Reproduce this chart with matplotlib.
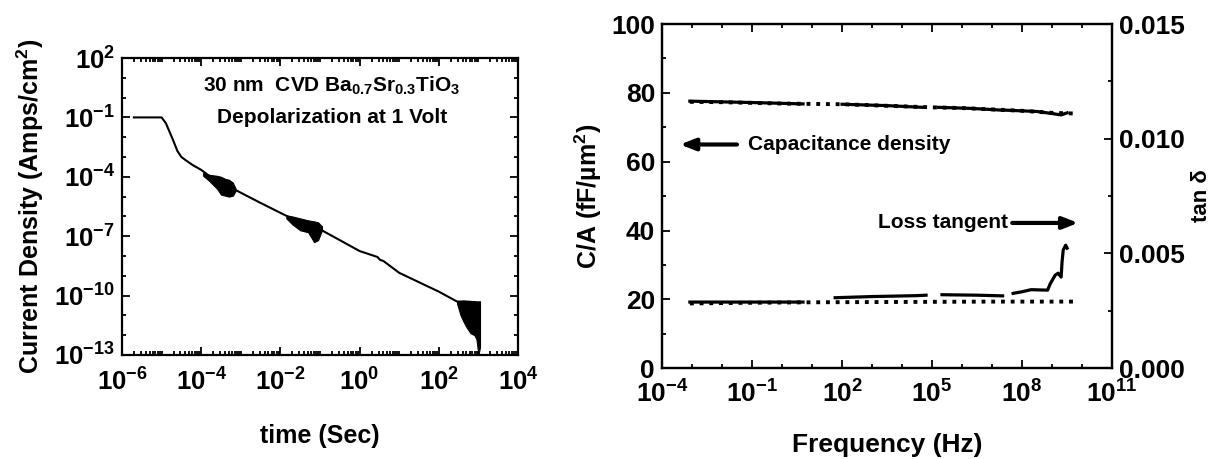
import numpy as np
import matplotlib
matplotlib.use('Agg')
import matplotlib.pyplot as plt
from matplotlib.ticker import LogLocator, MultipleLocator, NullFormatter, LogFormatterMathtext, FormatStrFormatter

plt.rcParams['font.family'] = ['Liberation Sans', 'DejaVu Sans']
plt.rcParams['font.weight'] = 'bold'
plt.rcParams['axes.labelweight'] = 'bold'
plt.rcParams['mathtext.fontset'] = 'custom'
plt.rcParams['mathtext.rm'] = 'Liberation Sans:bold'
plt.rcParams['mathtext.bf'] = 'Liberation Sans:bold'
plt.rcParams['mathtext.it'] = 'Liberation Sans:bold:italic'

# ---- left panel: depolarization current (log10 values)
t_exp = [-5.7, -5.0, -4.89, -4.72, -4.6, -4.5, -4.4, -4.22, -4.0, -3.7, -3.4, -3.13,
         -2.52, -1.82, -1.0, 0.0, 0.45, 0.52, 0.6, 1.0, 2.0, 2.46, 2.7, 3.04]
j_exp = [-1.0, -1.0, -1.3, -2.1, -2.7, -3.0, -3.15, -3.4, -3.65, -4.1, -4.45, -4.67,
         -5.3, -6.0, -6.65, -7.75, -8.05, -8.2, -8.25, -8.85, -9.8, -10.3, -10.3, -10.35]

# noise bursts: (time, upper, lower) exponents
burst1_t = [-3.95, -3.8, -3.6, -3.5, -3.4, -3.3, -3.2, -3.13]
burst1_hi = [-3.8, -3.9, -3.95, -4.0, -4.1, -4.15, -4.3, -4.6]
burst1_lo = [-3.95, -4.2, -4.6, -4.9, -4.95, -5.0, -4.95, -4.7]
burst2_t = [-1.85, -1.7, -1.5, -1.3, -1.15, -1.05, -0.95]
burst2_hi = [-5.95, -6.0, -6.1, -6.2, -6.25, -6.3, -6.5]
burst2_lo = [-6.1, -6.4, -6.7, -6.8, -7.3, -7.2, -6.7]
burst3_t = [2.46, 2.55, 2.62, 2.7, 2.8, 2.9, 2.95, 3.0, 3.04]
burst3_hi = [-10.3, -10.3, -10.25, -10.3, -10.3, -10.3, -10.35, -10.3, -10.3]
burst3_lo = [-10.4, -11.0, -11.3, -11.6, -11.9, -12.0, -12.2, -13.0, -12.6]

# ---- right panel: capacitance density (fF/um2) and loss tangent vs frequency
cap_dot_f = [-3.07, -2, -1, 0, 1, 2, 3, 4, 5, 6, 7, 8, 9, 9.77]
cap_dot_v = [77.4, 77.3, 77.1, 76.9, 76.8, 76.7, 76.4, 76.1, 75.8, 75.6, 75.2, 74.8, 74.2, 74.0]
cap_line_f = [-3.07, -1.0, 0.7, np.nan, 2.0, 3.5, 4.7, np.nan, 5.2, 6.3, 7.3, np.nan,
              7.4, 8.5, 9.0, 9.3, 9.5]
cap_line_v = [77.6, 77.2, 76.8, np.nan, 76.7, 76.3, 75.8, np.nan, 75.8, 75.5, 75.0, np.nan,
              75.0, 74.6, 74.0, 73.6, 74.2]

loss_dot_f = [-3.07, -1, 1, 3, 5, 7, 9, 9.77]
loss_dot_v = [0.00282, 0.00285, 0.00287, 0.00288, 0.00289, 0.0029, 0.0029, 0.0029]
loss_line_f = [-3.07, 0.7, np.nan, 1.77, 3.0, 4.5, 4.8, np.nan, 5.33, 6.5, 7.35, np.nan,
               7.7, 8.0, 8.3, 8.85, 8.93, 9.1, 9.2, 9.3, 9.33, 9.37, 9.45, 9.5]
loss_line_v = [0.00288, 0.00288, np.nan, 0.00307, 0.00312, 0.00316, 0.00318, np.nan,
               0.0032, 0.00318, 0.00315, np.nan,
               0.00326, 0.00333, 0.00342, 0.0034, 0.00366, 0.00405, 0.00414, 0.00397,
               0.00462, 0.00515, 0.00536, 0.00523]

NOTE_FS = 15


def style_axis(ax, size):
    for sp in ax.spines.values():
        sp.set_linewidth(1.6)
    ax.tick_params(which='both', direction='in', width=1.3, labelsize=size)
    ax.tick_params(which='major', length=6)
    ax.tick_params(which='minor', length=3)


fig = plt.figure(figsize=(12.2, 4.59), dpi=100)

# ---------------- left
ax1 = fig.add_axes([0.1, 0.2266, 0.3246, 0.647])
p = lambda e: 10.0 ** np.array(e)
ax1.plot(p(t_exp), p(j_exp), color='k', lw=1.5)
for bt, bh, bl in [(burst1_t, burst1_hi, burst1_lo),
                   (burst2_t, burst2_hi, burst2_lo),
                   (burst3_t, burst3_hi, burst3_lo)]:
    ax1.fill_between(p(bt), p(bl), p(bh), color='k', lw=0.8)

ax1.set_xscale('log')
ax1.set_yscale('log')
ax1.set_xlim(1e-6, 1e4)
ax1.set_ylim(1e-13, 1e2)
ax1.set_xticks([1e-6, 1e-4, 1e-2, 1e0, 1e2, 1e4])
ax1.set_yticks([1e-13, 1e-10, 1e-7, 1e-4, 1e-1, 1e2])
ax1.xaxis.set_minor_locator(LogLocator(base=10, subs=np.arange(1, 10), numticks=100))
ax1.yaxis.set_minor_locator(LogLocator(base=10, subs=(1.0,), numticks=100))
ax1.xaxis.set_minor_formatter(NullFormatter())
ax1.yaxis.set_minor_formatter(NullFormatter())
ax1.xaxis.set_major_formatter(LogFormatterMathtext())
ax1.yaxis.set_major_formatter(LogFormatterMathtext())
style_axis(ax1, 18.5)
ax1.tick_params(which='both', top=True, right=True)
ax1.tick_params(axis='x', pad=10)
ax1.tick_params(axis='y', pad=5)
ax1.set_xlabel('time (Sec)', fontsize=18, labelpad=20)
ax1.set_ylabel('Current Density (Amps/cm$^2$)', fontsize=18, labelpad=6)
ax1.text(0.53, 0.905, '30 nm  CVD Ba$_{0.7}$Sr$_{0.3}$TiO$_3$', transform=ax1.transAxes,
         ha='center', va='center', fontsize=NOTE_FS)
ax1.text(0.53, 0.80, 'Depolarization at 1 Volt', transform=ax1.transAxes,
         ha='center', va='center', fontsize=NOTE_FS)

# ---------------- right
ax2 = fig.add_axes([0.5426, 0.198, 0.369, 0.7495])
ax3 = ax2.twinx()

ax2.plot(p(cap_dot_f), cap_dot_v, color='k', lw=2.8, linestyle=(0, (1, 1.5)))
ax2.plot(p(cap_line_f), cap_line_v, color='k', lw=2.3)
ax3.plot(p(loss_dot_f), loss_dot_v, color='k', lw=2.8, linestyle=(0, (1, 1.5)))
ax3.plot(p(loss_line_f), loss_line_v, color='k', lw=2.3)

ax2.set_xscale('log')
ax2.set_xlim(1e-4, 1e11)
ax2.set_ylim(0, 100)
ax3.set_ylim(0, 0.015)
ax2.set_xticks([1e-4, 1e-1, 1e2, 1e5, 1e8, 1e11])
ax2.xaxis.set_minor_locator(LogLocator(base=10, subs=(1.0,), numticks=100))
ax2.xaxis.set_minor_formatter(NullFormatter())
ax2.xaxis.set_major_formatter(LogFormatterMathtext())
ax2.yaxis.set_major_locator(MultipleLocator(20))
ax2.yaxis.set_minor_locator(MultipleLocator(10))
ax3.yaxis.set_major_locator(MultipleLocator(0.005))
ax3.yaxis.set_minor_locator(MultipleLocator(0.0025))
ax3.yaxis.set_major_formatter(FormatStrFormatter('%.3f'))
style_axis(ax2, 19)
style_axis(ax3, 19)
ax2.tick_params(which='both', top=True, right=False)
ax2.tick_params(axis='x', pad=9)
ax2.tick_params(axis='y', pad=5)
ax3.tick_params(axis='y', pad=5)
ax2.set_xlabel('Frequency (Hz)', fontsize=19, labelpad=18)
ax2.set_ylabel('C/A (fF/µm$^2$)', fontsize=18, labelpad=5)
ax3.set_ylabel('tan δ', fontsize=16, labelpad=4)

arrow = dict(arrowstyle='-|>,head_length=0.9,head_width=0.35', lw=3, color='k',
             shrinkA=0, shrinkB=0)
ax2.annotate('', xy=(10 ** -3.4, 65), xytext=(10 ** -1.5, 65), arrowprops=arrow)
ax2.text(10 ** -1.13, 65, 'Capacitance density', ha='left', va='center', fontsize=NOTE_FS)
ax2.annotate('', xy=(10 ** 9.87, 42.2), xytext=(10 ** 7.67, 42.2), arrowprops=arrow)
ax2.text(10 ** 7.53, 42.2, 'Loss tangent', ha='right', va='center', fontsize=NOTE_FS)

fig.savefig('out.png', dpi=100)
